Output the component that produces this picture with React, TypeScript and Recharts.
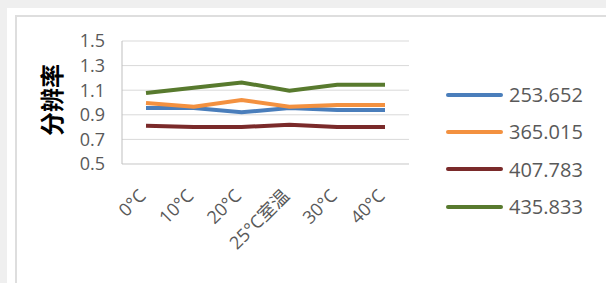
import React from "react";
import { LineChart, Line, XAxis, YAxis, CartesianGrid } from "recharts";

// categories and series
const categories = ["0°C", "10°C", "20°C", "25°C室温", "30°C", "40°C"];
const s253 = [0.955, 0.955, 0.92, 0.955, 0.94, 0.94];
const s365 = [0.995, 0.965, 1.02, 0.965, 0.98, 0.98];
const s407 = [0.81, 0.8, 0.8, 0.82, 0.8, 0.8];
const s435 = [1.077, 1.12, 1.163, 1.096, 1.145, 1.145];
const yTicks = [0.5, 0.7, 0.9, 1.1, 1.3, 1.5];

const series = [
  { key: "253.652", values: s253, color: "#4a7ebb" },
  { key: "365.015", values: s365, color: "#f39140" },
  { key: "407.783", values: s407, color: "#7a2a2a" },
  { key: "435.833", values: s435, color: "#587a2e" },
];

const data = categories.map((cat, i) => {
  const row: any = { cat };
  series.forEach((s) => {
    row[s.key] = s.values[i];
  });
  return row;
});

const FONT = "'Open Sans', 'Noto Sans CJK SC', sans-serif";

const XTick = (props: any) => {
  const { x, y, payload } = props;
  return (
    <g transform={`translate(${x + 1},${y + 31})`}>
      <text
        x={0}
        y={0}
        textAnchor="end"
        transform="rotate(-45)"
        fill="#595959"
        fontSize={18}
        fontFamily={FONT}
      >
        {payload.value}
      </text>
    </g>
  );
};

const YLabel = (props: any) => {
  const { viewBox } = props;
  const cx = viewBox.x - 12;
  const cy = 100;
  return (
    <text
      x={cx}
      y={cy}
      transform={`rotate(-90, ${cx}, ${cy})`}
      textAnchor="middle"
      dominantBaseline="central"
      fontSize={24}
      fontWeight="bold"
      fill="#000"
      fontFamily="'Noto Sans CJK SC', sans-serif"
    >
      分辨率
    </text>
  );
};

export default function App() {
  return (
    <div
      style={{
        position: "fixed",
        left: 0,
        top: 0,
        width: 606,
        height: 283,
        background: "#efefef",
        overflow: "hidden",
        fontFamily: FONT,
      }}
    >
      <div
        style={{
          position: "absolute",
          left: 7,
          top: 8,
          right: 0,
          bottom: 0,
          background: "#fff",
        }}
      />
      <div
        style={{
          position: "absolute",
          left: 15,
          top: 15,
          width: 640,
          height: 320,
          border: "2px solid #dedede",
        }}
      />
      <div style={{ position: "absolute", left: 0, top: 0 }}>
        <LineChart
          width={606}
          height={283}
          data={data}
          margin={{ top: 41, right: 197, left: 62, bottom: 59 }}
        >
          <CartesianGrid vertical={false} stroke="#d9d9d9" />
          <XAxis
            dataKey="cat"
            height={60}
            padding={{ left: 24, right: 24 }}
            tickLine={false}
            tickSize={0}
            axisLine={{ stroke: "#d9d9d9" }}
            tick={<XTick />}
            interval={0}
          />
          <YAxis
            width={60}
            domain={[0.5, 1.5]}
            ticks={yTicks}
            interval={0}
            tickFormatter={(v: number) => v.toFixed(1)}
            tickLine={false}
            tickSize={0}
            tickMargin={17}
            axisLine={{ stroke: "#bfbfbf" }}
            tick={{ fill: "#595959", fontSize: 18, fontFamily: FONT }}
            label={<YLabel />}
          />
          {series.map((s) => (
            <Line
              key={s.key}
              dataKey={s.key}
              stroke={s.color}
              strokeWidth={4}
              dot={false}
              type="linear"
              isAnimationActive={false}
            />
          ))}
        </LineChart>
      </div>
      <div style={{ position: "absolute", left: 446, top: 76 }}>
        {series.map((s) => (
          <div
            key={s.key}
            style={{ display: "flex", alignItems: "center", height: 37.3 }}
          >
            <div
              style={{
                width: 57,
                height: 4,
                borderRadius: 2,
                background: s.color,
                marginRight: 6,
              }}
            />
            <span style={{ fontSize: 20, color: "#595959" }}>{s.key}</span>
          </div>
        ))}
      </div>
    </div>
  );
}
